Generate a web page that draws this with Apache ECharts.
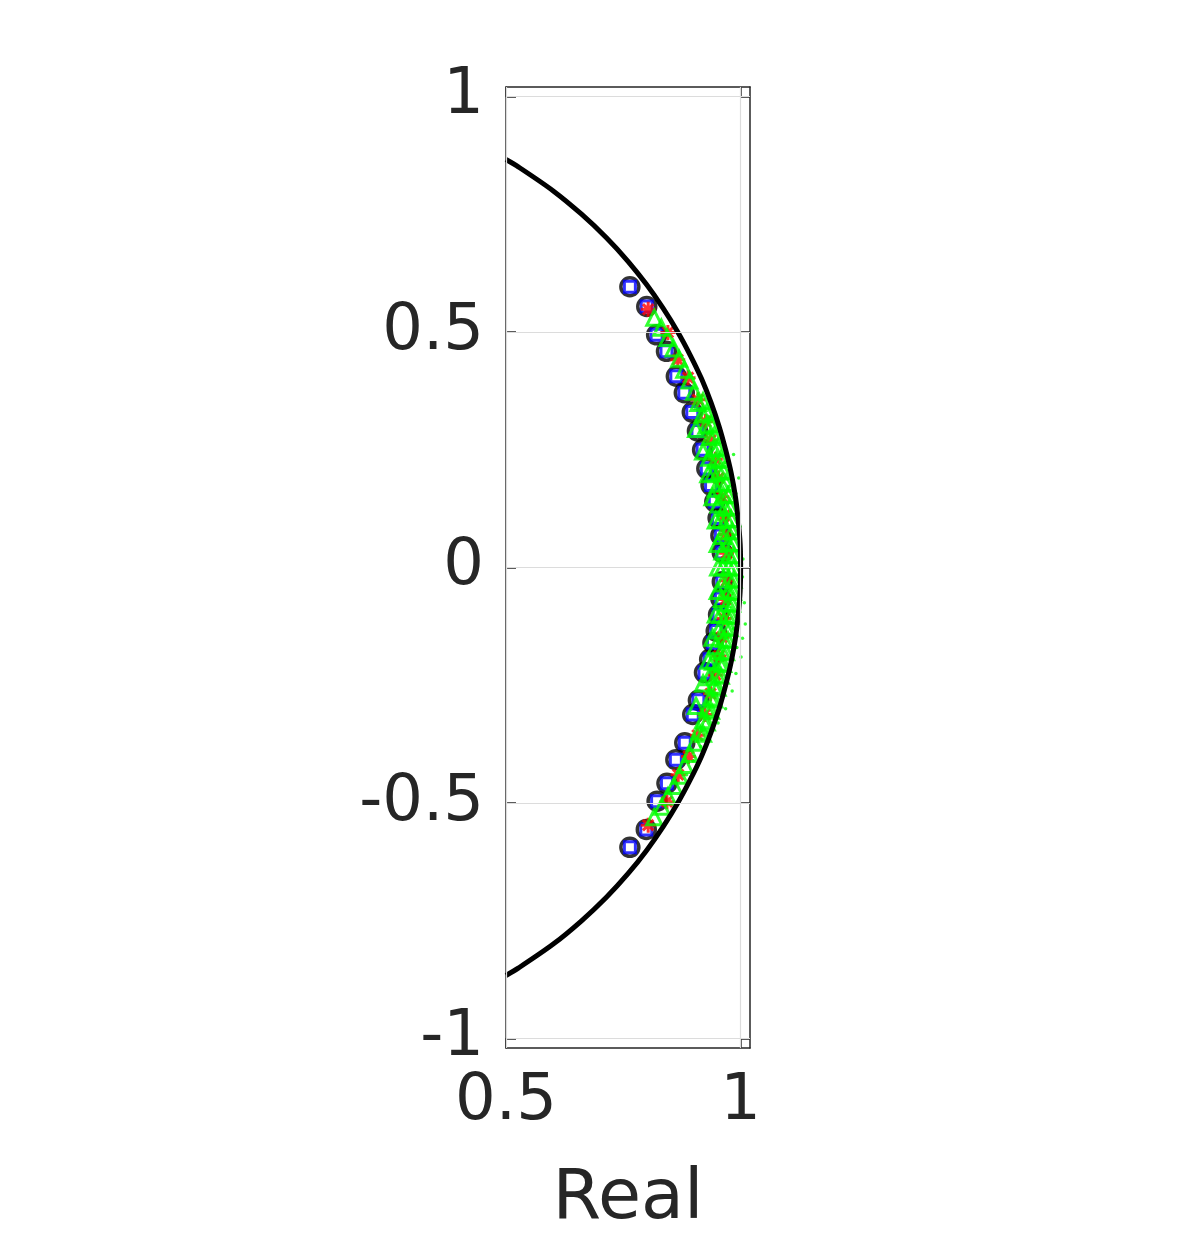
<!DOCTYPE html>
<html>
<head>
<meta charset="utf-8">
<script src="https://cdn.jsdelivr.net/npm/echarts@6/dist/echarts.min.js"></script>
<style>
  html, body { margin: 0; padding: 0; background: #fff; }
  #chart { width: 1196px; height: 1233px; }
</style>
</head>
<body>
<div id="chart"></div>
<script>
  // axis ticks
  var xTicks = [0.5, 1];
  var yTicks = [-1, -0.5, 0, 0.5, 1];

  // unit circle reference arc (Real, Imag)
  var unitArc = [
    [0.500, -0.866], [0.527, -0.850], [0.600, -0.800], [0.661, -0.750], [0.714, -0.700],
    [0.760, -0.650], [0.800, -0.600], [0.835, -0.550], [0.866, -0.500], [0.893, -0.450],
    [0.917, -0.400], [0.937, -0.350], [0.954, -0.300], [0.968, -0.250], [0.980, -0.200],
    [0.989, -0.150], [0.995, -0.100], [0.999, -0.050], [1.000, 0.000], [0.999, 0.050],
    [0.995, 0.100], [0.989, 0.150], [0.980, 0.200], [0.968, 0.250], [0.954, 0.300],
    [0.937, 0.350], [0.917, 0.400], [0.893, 0.450], [0.866, 0.500], [0.835, 0.550],
    [0.800, 0.600], [0.760, 0.650], [0.714, 0.700], [0.661, 0.750], [0.600, 0.800],
    [0.527, 0.850], [0.500, 0.866]
  ];

  // black circles / blue squares (same eigenvalues)
  var circleEig = [
    [0.764, 0.596], [0.800, 0.554], [0.821, 0.494], [0.842, 0.459], [0.863, 0.406],
    [0.880, 0.371], [0.897, 0.330], [0.908, 0.290], [0.919, 0.250], [0.928, 0.210],
    [0.937, 0.175], [0.945, 0.140], [0.952, 0.105], [0.958, 0.068], [0.961, 0.032],
    [0.764, -0.594], [0.799, -0.556], [0.822, -0.496], [0.843, -0.458], [0.862, -0.408],
    [0.881, -0.372], [0.898, -0.312], [0.910, -0.282], [0.923, -0.223], [0.934, -0.195],
    [0.941, -0.160], [0.948, -0.135], [0.953, -0.100], [0.958, -0.066], [0.961, -0.030]
  ];

  // red asterisks
  var starEig = [
    [0.803, 0.548], [0.845, 0.499], [0.866, 0.441], [0.888, 0.403], [0.909, 0.356],
    [0.925, 0.310], [0.936, 0.270], [0.946, 0.230], [0.953, 0.190], [0.960, 0.150],
    [0.965, 0.110], [0.968, 0.070], [0.970, 0.030],
    [0.803, -0.547], [0.843, -0.497], [0.867, -0.440], [0.889, -0.401], [0.908, -0.356],
    [0.924, -0.312], [0.936, -0.268], [0.946, -0.228], [0.954, -0.188], [0.960, -0.148],
    [0.965, -0.108], [0.968, -0.068], [0.970, -0.028]
  ];

  // green triangles
  var triEig = [
    [0.816, 0.530], [0.831, 0.509], [0.844, 0.487], [0.857, 0.465], [0.869, 0.443],
    [0.880, 0.420], [0.891, 0.397], [0.901, 0.373], [0.910, 0.349], [0.919, 0.325],
    [0.927, 0.301], [0.935, 0.277], [0.942, 0.252], [0.948, 0.228], [0.954, 0.203],
    [0.959, 0.178], [0.963, 0.153], [0.967, 0.127], [0.970, 0.102], [0.972, 0.077],
    [0.974, 0.051], [0.975, 0.026], [0.975, 0.000],
    [0.816, -0.530], [0.832, -0.508], [0.845, -0.486], [0.858, -0.464], [0.870, -0.442],
    [0.881, -0.419], [0.892, -0.396], [0.902, -0.372], [0.911, -0.348], [0.920, -0.324],
    [0.928, -0.300], [0.936, -0.276], [0.943, -0.251], [0.949, -0.227], [0.955, -0.202],
    [0.960, -0.177], [0.964, -0.152], [0.968, -0.126], [0.971, -0.101], [0.973, -0.076],
    [0.975, -0.050], [0.976, -0.025]
  ];

  // green triangles, outer and inner bands near the real axis
  var triEigOuter = [
    [0.985, 0.000], [0.985, 0.026], [0.984, 0.052], [0.982, 0.077], [0.980, 0.103],
    [0.977, 0.129], [0.973, 0.154], [0.969, 0.180], [0.963, 0.205], [0.958, 0.230],
    [0.951, 0.255], [0.944, 0.280], [0.937, 0.304], [0.928, 0.329], [0.920, 0.353],
    [0.985, -0.026], [0.984, -0.052], [0.982, -0.077], [0.980, -0.103], [0.977, -0.129],
    [0.973, -0.154], [0.969, -0.180], [0.963, -0.205], [0.958, -0.230], [0.951, -0.255],
    [0.944, -0.280], [0.937, -0.304], [0.928, -0.329], [0.920, -0.353]
  ];
  var triEigInner = [
    [0.962, 0.000], [0.961, 0.034], [0.960, 0.067], [0.957, 0.101], [0.953, 0.134],
    [0.947, 0.167], [0.941, 0.200], [0.933, 0.233],
    [0.961, -0.034], [0.960, -0.067], [0.957, -0.101], [0.953, -0.134],
    [0.947, -0.167], [0.941, -0.200], [0.933, -0.233],
    [0.952, 0.000], [0.951, 0.050], [0.947, 0.100], [0.940, 0.149], [0.931, 0.198],
    [0.920, 0.246], [0.905, 0.294],
    [0.951, -0.050], [0.947, -0.100], [0.940, -0.149], [0.931, -0.198],
    [0.920, -0.246], [0.905, -0.294]
  ];

  // small green dots
  var dotEig = [
    [1.005, 0.018], [0.994, 0.035], [0.979, 0.051], [0.988, 0.069], [0.999, 0.087],
    [0.991, 0.104], [0.978, 0.120], [0.988, 0.139], [0.990, 0.157], [0.975, 0.172],
    [0.962, 0.187], [0.975, 0.207], [0.967, 0.223], [0.956, 0.238], [0.942, 0.252],
    [0.952, 0.273], [0.937, 0.287], [0.946, 0.307], [0.931, 0.321], [0.916, 0.333],
    [0.909, 0.367], [0.900, 0.401], [0.876, 0.427], [0.996, 0.190], [0.985, 0.240],
    [1.004, -0.020], [0.996, -0.040], [0.982, -0.055], [1.008, -0.075], [0.993, -0.095],
    [1.010, -0.120], [0.985, -0.130], [1.004, -0.150], [0.992, -0.170], [1.001, -0.190],
    [0.978, -0.205], [0.990, -0.225], [0.970, -0.240], [0.982, -0.262], [0.958, -0.280],
    [0.968, -0.300], [0.945, -0.315], [0.952, -0.330], [0.930, -0.350], [0.915, -0.380],
    [0.900, -0.410], [0.885, -0.440]
  ];

  var chart = echarts.init(document.getElementById('chart'));
  var font = 'DejaVu Sans';
  var axisColor = '#262626';
  var asterisk = 'path://M0,-10L0,10M-10,0L10,0M-7,-7L7,7M-7,7L7,-7';

  function baseAxis(min, max, ticks, showLabel, pos) {
    return {
      type: 'value',
      position: pos,
      min: min,
      max: max,
      axisLine: { show: true, onZero: false, lineStyle: { color: axisColor, width: 1.5 } },
      axisTick: { show: true, inside: true, length: 10, customValues: ticks, lineStyle: { color: axisColor, width: 1.5 } },
      axisLabel: {
        show: showLabel, customValues: ticks, color: axisColor,
        fontFamily: font, fontSize: 64, margin: 22,
        formatter: function (v) { return String(v); }
      },
      splitLine: { show: false }
    };
  }

  var xMain = baseAxis(0.5, 1.02, xTicks, true, 'bottom');
  xMain.name = 'Real';
  xMain.nameLocation = 'middle';
  xMain.nameGap = 117;
  xMain.nameTextStyle = { color: axisColor, fontFamily: font, fontSize: 70 };
  var xTop = baseAxis(0.5, 1.02, xTicks, false, 'top');
  var yMain = baseAxis(-1.02, 1.02, yTicks, true, 'left');
  var yRight = baseAxis(-1.02, 1.02, yTicks, false, 'right');

  var grid = [];
  xTicks.forEach(function (v) { grid.push({ xAxis: v }); });
  yTicks.forEach(function (v) { grid.push({ yAxis: v }); });

  var triStyle = { color: 'rgba(0,0,0,0)', borderColor: '#00ff00', borderWidth: 3 };

  chart.setOption({
    animation: false,
    backgroundColor: '#fff',
    grid: { left: 506, top: 87, right: 446, bottom: 185, outerBoundsMode: 'none', containLabel: false },
    xAxis: [xMain, xTop],
    yAxis: [yMain, yRight],
    series: [
      {
        type: 'scatter', data: [], silent: true,
        markLine: {
          silent: true, symbol: 'none', label: { show: false },
          lineStyle: { color: '#dcdcdc', width: 1.2, type: 'solid' },
          data: grid
        }
      },
      {
        type: 'line', data: unitArc, showSymbol: false, smooth: 0.3,
        lineStyle: { color: '#000', width: 5 }
      },
      {
        type: 'scatter', data: circleEig, symbol: 'circle', symbolSize: 18,
        itemStyle: { color: 'rgba(0,0,0,0)', borderColor: '#000', borderWidth: 3.5 }
      },
      {
        type: 'scatter', data: circleEig, symbol: 'rect', symbolSize: 11,
        itemStyle: { color: 'rgba(0,0,0,0)', borderColor: '#0000ff', borderWidth: 3 }
      },
      {
        type: 'scatter', data: starEig, symbol: asterisk, symbolSize: 15,
        itemStyle: { color: 'rgba(0,0,0,0)', borderColor: '#ff0000', borderWidth: 3 }
      },
      { type: 'scatter', data: triEigInner, symbol: 'triangle', symbolSize: 15, itemStyle: triStyle },
      { type: 'scatter', data: triEig, symbol: 'triangle', symbolSize: 15, itemStyle: triStyle },
      { type: 'scatter', data: triEigOuter, symbol: 'triangle', symbolSize: 15, itemStyle: triStyle },
      {
        type: 'scatter', data: dotEig, symbol: 'circle', symbolSize: 3.5,
        itemStyle: { color: '#00ff00' }
      }
    ]
  });
</script>
</body>
</html>
